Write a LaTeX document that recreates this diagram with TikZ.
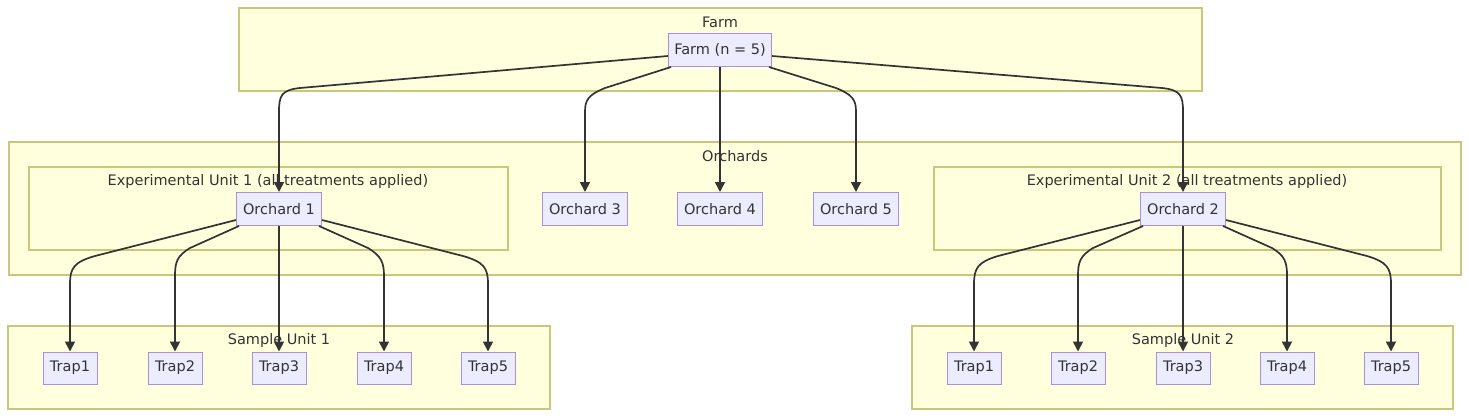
\documentclass[tikz,border=0pt]{standalone}
\usepackage{fontspec}
\setmainfont{DejaVu Sans}
\usetikzlibrary{arrows.meta}
\definecolor{clfill}{HTML}{FFFFDE}
\definecolor{cldraw}{HTML}{C8C87A}
\definecolor{ndfill}{HTML}{ECECFF}
\definecolor{nddraw}{HTML}{A98FDD}
\definecolor{txt}{HTML}{333333}
\begin{document}
\begin{tikzpicture}[x=1pt,y=-1pt,
  every node/.style={font=\fontsize{14.5}{17}\selectfont, text=txt},
  cluster/.style={draw=cldraw, fill=clfill, line width=1.2pt},
  box/.style={draw=nddraw, fill=ndfill, line width=1pt, minimum height=33pt, inner sep=0pt},
  orch/.style={box, minimum width=85pt},
  trap/.style={box, minimum width=54pt, minimum height=32pt},
  conn/.style={draw=txt, line width=1.7pt, -{Triangle[length=10pt,width=10pt]}}
]
\useasboundingbox (0,0) rectangle (1469,418);
\fill[white] (0,0) rectangle (1469,418);
% clusters
\draw[cluster] (239,8) rectangle (1202,91);
\node (lfarm) at (720,22) {Farm};
\draw[cluster] (9,142) rectangle (1461,275);
\node (lorch) at (735,156) {Orchards};
\draw[cluster] (29,167) rectangle (508,250);
\node (leu1) at (268,181) {Experimental Unit 1 (all treatments applied)};
\draw[cluster] (934,167) rectangle (1441,250);
\node (leu2) at (1187,181) {Experimental Unit 2 (all treatments applied)};
\draw[cluster] (8,326) rectangle (550,409);
\node (lsu1) at (279,340) {Sample Unit 1};
\draw[cluster] (912,326) rectangle (1453,409);
\node (lsu2) at (1183,340) {Sample Unit 2};
% nodes
\node[box, minimum width=103pt] (farm) at (720,50) {Farm (n = 5)};
\node[orch] (o1) at (279,209) {Orchard 1};
\node[orch] (o3) at (585,209) {Orchard 3};
\node[orch] (o4) at (720,209) {Orchard 4};
\node[orch] (o5) at (856,209) {Orchard 5};
\node[orch] (o2) at (1183,209) {Orchard 2};
\foreach \i/\x in {1/70,2/175,3/279,4/384,5/488}
  \node[trap] (a\i) at (\x,368) {Trap\i};
\foreach \i/\x in {1/974,2/1078,3/1183,4/1287,5/1391}
  \node[trap] (b\i) at (\x,368) {Trap\i};
% farm edges
\draw[conn] ([yshift=-6pt]farm.west) -- (300,88) .. controls (281,90) and (279,96) .. (279,112) -- (o1.north);
\draw[conn] ([xshift=3pt]farm.south west) -- (605,88) .. controls (588,95) and (585,100) .. (585,112) -- (o3.north);
\draw[conn] (farm.south) -- (o4.north);
\draw[conn] ([xshift=-3pt]farm.south east) -- (836,88) .. controls (853,95) and (856,100) .. (856,112) -- (o5.north);
\draw[conn] ([yshift=-6pt]farm.east) -- (1162,88) .. controls (1181,90) and (1183,96) .. (1183,112) -- (o2.north);
% orchard 1 edges
\draw[conn] ([yshift=6pt]o1.south west) -- (95,256) .. controls (74,262) and (70,268) .. (70,284) -- (a1.north);
\draw[conn] ([xshift=3pt]o1.south west) -- (190,248) .. controls (177,256) and (175,262) .. (175,276) -- (a2.north);
\draw[conn] (o1.south) -- (a3.north);
\draw[conn] ([xshift=-3pt]o1.south east) -- (368,248) .. controls (381,256) and (384,262) .. (384,276) -- (a4.north);
\draw[conn] ([yshift=6pt]o1.south east) -- (463,256) .. controls (484,262) and (488,268) .. (488,284) -- (a5.north);
% orchard 2 edges
\draw[conn] ([yshift=6pt]o2.south west) -- (998,256) .. controls (978,262) and (974,268) .. (974,284) -- (b1.north);
\draw[conn] ([xshift=3pt]o2.south west) -- (1093,248) .. controls (1080,256) and (1078,262) .. (1078,276) -- (b2.north);
\draw[conn] (o2.south) -- (b3.north);
\draw[conn] ([xshift=-3pt]o2.south east) -- (1272,248) .. controls (1285,256) and (1287,262) .. (1287,276) -- (b4.north);
\draw[conn] ([yshift=6pt]o2.south east) -- (1367,256) .. controls (1387,262) and (1391,268) .. (1391,284) -- (b5.north);
\end{tikzpicture}
\end{document}
